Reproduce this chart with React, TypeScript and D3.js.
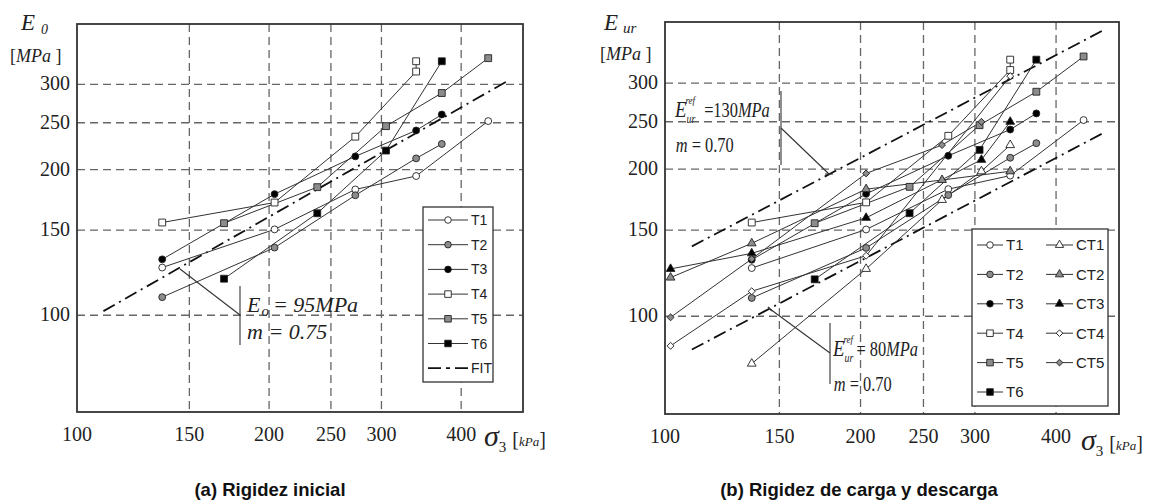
import React, { useEffect, useRef } from 'react';
import * as d3 from 'd3';

// sigma_3 [kPa] and stiffness E [MPa]
const t1Sigma = [136, 204, 273, 340, 441];
const t1E = [125.5, 150.5, 182, 194, 252];
const t2Sigma = [136, 204, 273, 340, 373];
const t2E = [109, 138, 177, 211, 226];
const t3Sigma = [136, 204, 273, 340, 373];
const t3E = [130.5, 178, 213, 241, 260];
const t4Sigma = [136, 204, 273, 340, 340];
const t4E = [155.5, 171, 234, 319, 335];
const t5Sigma = [170, 238, 305, 373, 441];
const t5E = [155, 184, 246, 288, 340];
const t6Sigma = [170, 238, 305, 373];
const t6E = [119, 162.5, 219, 335];

const ct1Sigma = [136, 204, 267, 307, 340];
const ct1E = [80, 125, 173, 198, 224];
const ct2Sigma = [102, 136, 204, 267, 340];
const ct2E = [120, 141, 182, 190, 198];
const ct3Sigma = [102, 136, 204, 307, 340];
const ct3E = [125, 134.5, 159, 209, 250];
const ct4Sigma = [102, 136, 204, 340];
const ct4E = [87, 112.5, 133, 310];
const ct5Sigma = [102, 136, 204, 267, 307];
const ct5E = [99.5, 131, 196, 224, 250];

// fit lines (power law -> straight on log-log), end points
const fitSigma = [110, 475];
const fitE = [102, 306];
const fitUpSigma = [110, 477];
const fitUpE = [139, 387];
const fitLowSigma = [110, 477];
const fitLowE = [85.5, 238.5];

const xTicks = [100, 150, 200, 250, 300, 400];
const yTicks = [100, 150, 200, 250, 300];

const GREY = '#8c8c8c';
const SERIF = "'Liberation Serif', 'Times New Roman', serif";
const SANS = "'Liberation Sans', Arial, sans-serif";
const DASHDOT = '13,5,2,5';

const tSeries = [
  { name: 'T1', sigma: t1Sigma, e: t1E, shape: 'circle', fill: 'white' },
  { name: 'T2', sigma: t2Sigma, e: t2E, shape: 'circle', fill: GREY },
  { name: 'T3', sigma: t3Sigma, e: t3E, shape: 'circle', fill: '#000' },
  { name: 'T4', sigma: t4Sigma, e: t4E, shape: 'square', fill: 'white' },
  { name: 'T5', sigma: t5Sigma, e: t5E, shape: 'square', fill: GREY },
  { name: 'T6', sigma: t6Sigma, e: t6E, shape: 'square', fill: '#000' },
];
const ctSeries = [
  { name: 'CT1', sigma: ct1Sigma, e: ct1E, shape: 'triangle', fill: 'white' },
  { name: 'CT2', sigma: ct2Sigma, e: ct2E, shape: 'triangle', fill: GREY },
  { name: 'CT3', sigma: ct3Sigma, e: ct3E, shape: 'triangle', fill: '#000' },
  { name: 'CT4', sigma: ct4Sigma, e: ct4E, shape: 'diamond', fill: 'white' },
  { name: 'CT5', sigma: ct5Sigma, e: ct5E, shape: 'diamond', fill: GREY },
];

const markerPath = (shape, k) => {
  if (shape === 'circle') return d3.symbol(d3.symbolCircle, 62 * k)();
  if (shape === 'square') return d3.symbol(d3.symbolSquare, 78 * k)();
  if (shape === 'triangle') return d3.symbol(d3.symbolTriangle, 55 * k)();
  return d3.symbol(d3.symbolSquare, 40 * k)();
};

const drawMarker = (g, shape, fill, cx, cy, k) => {
  g.append('path')
    .attr('d', markerPath(shape, k))
    .attr('transform', `translate(${cx},${cy})${shape === 'diamond' ? ' rotate(45)' : ''}`)
    .attr('fill', fill)
    .attr('stroke', '#222')
    .attr('stroke-width', 0.9);
};

const drawPanel = (svg, cfg) => {
  const { left, right, top, bottom, series, fits, k } = cfg;
  const x = d3.scaleLog().domain([100, 500]).range([left, right]);
  const y = d3.scaleLog().domain([63.1, 400]).range([bottom, top]);
  const g = svg.append('g');

  // dashed grid
  g.selectAll('.gx').data(xTicks.slice(1)).enter().append('line')
    .attr('x1', d => x(d)).attr('x2', d => x(d))
    .attr('y1', top).attr('y2', bottom)
    .attr('stroke', '#666').attr('stroke-width', 1.3).attr('stroke-dasharray', '8,5');
  g.selectAll('.gy').data(yTicks).enter().append('line')
    .attr('x1', left).attr('x2', right)
    .attr('y1', d => y(d)).attr('y2', d => y(d))
    .attr('stroke', '#666').attr('stroke-width', 1.3).attr('stroke-dasharray', '8,5');

  // tick labels
  g.selectAll('.tx').data(xTicks).enter().append('text')
    .attr('x', d => x(d)).attr('y', bottom + 29)
    .attr('text-anchor', 'middle')
    .style('font-family', SERIF).style('font-size', '20px').attr('fill', '#222')
    .text(d => d);
  g.selectAll('.ty').data(yTicks).enter().append('text')
    .attr('x', left - 7).attr('y', d => y(d) + 6)
    .attr('text-anchor', 'end')
    .style('font-family', SERIF).style('font-size', '20px').attr('fill', '#222')
    .text(d => d);

  // fit lines
  const line = d3.line().x(d => x(d[0])).y(d => y(d[1]));
  fits.forEach(f => {
    g.append('path')
      .attr('d', line(d3.zip(f.sigma, f.e)))
      .attr('fill', 'none').attr('stroke', '#111')
      .attr('stroke-width', 1.8).attr('stroke-dasharray', DASHDOT);
  });

  // test series
  series.forEach(s => {
    g.append('path')
      .attr('d', line(d3.zip(s.sigma, s.e)))
      .attr('fill', 'none').attr('stroke', '#333').attr('stroke-width', 1);
  });
  series.forEach(s => {
    s.sigma.forEach((v, i) => drawMarker(g, s.shape, s.fill, x(v), y(s.e[i]), k));
  });

  // frame
  g.append('rect')
    .attr('x', left).attr('y', top)
    .attr('width', right - left).attr('height', bottom - top)
    .attr('fill', 'none').attr('stroke', '#333').attr('stroke-width', 1.8);
};

const addText = (parent, x, y, parts, opts = {}) => {
  const t = parent.append('text').attr('x', x).attr('y', y)
    .style('font-family', opts.family || SERIF).attr('fill', opts.fill || '#222');
  if (opts.anchor) t.attr('text-anchor', opts.anchor);
  if (opts.weight) t.style('font-weight', opts.weight);
  parts.forEach(p => {
    const s = t.append('tspan').text(p.t).style('font-size', `${p.size}px`);
    if (p.italic) s.style('font-style', 'italic');
    if (p.dx !== undefined) s.attr('dx', p.dx);
    if (p.dy !== undefined) s.attr('dy', p.dy);
  });
  return t;
};

const seg = (svg, x1, y1, x2, y2, w = 1) => {
  svg.append('line').attr('x1', x1).attr('y1', y1).attr('x2', x2).attr('y2', y2)
    .attr('stroke', '#333').attr('stroke-width', w);
};

// condensed "E_ur^ref = ...MPa / m = 0.70" block
const refBlock = (svg, x, y, value, gap) => {
  const g = svg.append('g').attr('transform', `translate(${x},${y}) scale(0.82,1)`);
  addText(g, 0, 0, [
    { t: 'E', size: 23, italic: true },
    { t: 'ur', size: 12, italic: true, dx: 0, dy: 6 },
    { t: 'ref', size: 11, italic: true, dx: -12, dy: -19 },
    { t: value, size: 20, dx: gap, dy: 13 },
    { t: 'MPa', size: 20, italic: true },
  ]);
  addText(g, 1, 35, [{ t: 'm', size: 20, italic: true }, { t: ' = 0.70', size: 20 }]);
};

const legendRow = (svg, x1, x2, cy, item, k, fs) => {
  if (item.fit) {
    svg.append('line').attr('x1', x1).attr('x2', x2).attr('y1', cy).attr('y2', cy)
      .attr('stroke', '#111').attr('stroke-width', 1.8).attr('stroke-dasharray', '13,5,4,5');
  } else {
    seg(svg, x1, cy, x2, cy, 1);
    drawMarker(svg, item.shape, item.fill, (x1 + x2) / 2, cy, k);
  }
  addText(svg, x2 + 3, cy + fs * 0.36, [{ t: item.name, size: fs }], { family: SANS });
};

const App = () => {
  const svgRef = useRef(null);

  useEffect(() => {
    const svg = d3.select(svgRef.current);
    svg.selectAll('*').remove();

    // ---------- (a) initial stiffness ----------
    drawPanel(svg, {
      left: 77, right: 523, top: 24, bottom: 412, k: 0.6,
      series: tSeries,
      fits: [{ sigma: fitSigma, e: fitE }],
    });
    addText(svg, 21, 30, [{ t: 'E', size: 23, italic: true }, { t: '0', size: 14, italic: true, dx: 6, dy: 4 }]);
    addText(svg, 10, 62, [{ t: '[', size: 18 }, { t: 'MPa', size: 18, italic: true }, { t: ' ]', size: 18 }]);
    addText(svg, 484, 446, [
      { t: 'σ', size: 30, italic: true },
      { t: '3', size: 15, dy: 6 },
      { t: '[', size: 20, dx: 6, dy: -6 },
      { t: 'kPa', size: 13, italic: true },
      { t: ']', size: 20 },
    ]);
    // annotation
    seg(svg, 180, 269, 240, 315, 1.1);
    seg(svg, 240, 286, 240, 345, 1.1);
    addText(svg, 247, 312, [
      { t: 'E', size: 22, italic: true },
      { t: 'o', size: 15, italic: true, dx: 1, dy: 4 },
      { t: '= 95MPa', size: 22, italic: true, dx: 4, dy: -4 },
    ]);
    addText(svg, 247, 339, [{ t: 'm = 0.75', size: 22, italic: true }]);
    // legend
    svg.append('rect').attr('x', 423).attr('y', 207).attr('width', 70).attr('height', 175)
      .attr('fill', 'white').attr('stroke', '#333').attr('stroke-width', 1.3);
    [...tSeries, { name: 'FIT', fit: true }].forEach((s, i) => {
      legendRow(svg, 428, 468, 220 + i * 24.7, s, 0.55, 14);
    });
    addText(svg, 270, 496, [{ t: '(a) Rigidez inicial', size: 18.5 }], { family: SANS, anchor: 'middle', weight: 'bold', fill: '#111' });

    // ---------- (b) unloading-reloading stiffness ----------
    drawPanel(svg, {
      left: 665, right: 1119, top: 22, bottom: 414, k: 0.6,
      series: [...tSeries, ...ctSeries],
      fits: [{ sigma: fitUpSigma, e: fitUpE }, { sigma: fitLowSigma, e: fitLowE }],
    });
    addText(svg, 604, 30, [{ t: 'E', size: 23, italic: true }, { t: 'ur', size: 15, italic: true, dx: 5, dy: 3 }]);
    addText(svg, 600, 60, [{ t: '[', size: 18 }, { t: 'MPa', size: 18, italic: true }, { t: ' ]', size: 18 }]);
    addText(svg, 1081, 450, [
      { t: 'σ', size: 30, italic: true },
      { t: '3', size: 15, dy: 6 },
      { t: '[', size: 20, dx: 6, dy: -6 },
      { t: 'kPa', size: 13, italic: true },
      { t: ']', size: 20 },
    ]);
    // upper annotation
    seg(svg, 781, 91, 781, 165, 1.1);
    seg(svg, 781, 128, 829, 174, 1.1);
    seg(svg, 825, 174, 833, 174, 1.1);
    refBlock(svg, 675, 117, '=130', 11);
    // lower annotation
    seg(svg, 830, 323, 830, 384, 1.1);
    seg(svg, 770, 309, 830, 353, 1.1);
    seg(svg, 768, 307, 772, 311, 1.6);
    refBlock(svg, 833, 356, '= 80', 4);
    // legend
    svg.append('rect').attr('x', 972).attr('y', 229).attr('width', 136).attr('height', 177)
      .attr('fill', 'white').attr('stroke', '#333').attr('stroke-width', 1.3);
    tSeries.forEach((s, i) => legendRow(svg, 977, 1003, 245 + i * 29.4, s, 0.55, 15));
    ctSeries.forEach((s, i) => legendRow(svg, 1046, 1073, 245 + i * 29.4, s, 0.55, 15));
    addText(svg, 859, 496, [{ t: '(b) Rigidez de carga y descarga', size: 18.5 }], { family: SANS, anchor: 'middle', weight: 'bold', fill: '#111' });
  }, []);

  return (
    <svg ref={svgRef} width={1161} height={504}
      style={{ position: 'absolute', left: 0, top: 0, background: 'white' }} />
  );
};

export default App;
